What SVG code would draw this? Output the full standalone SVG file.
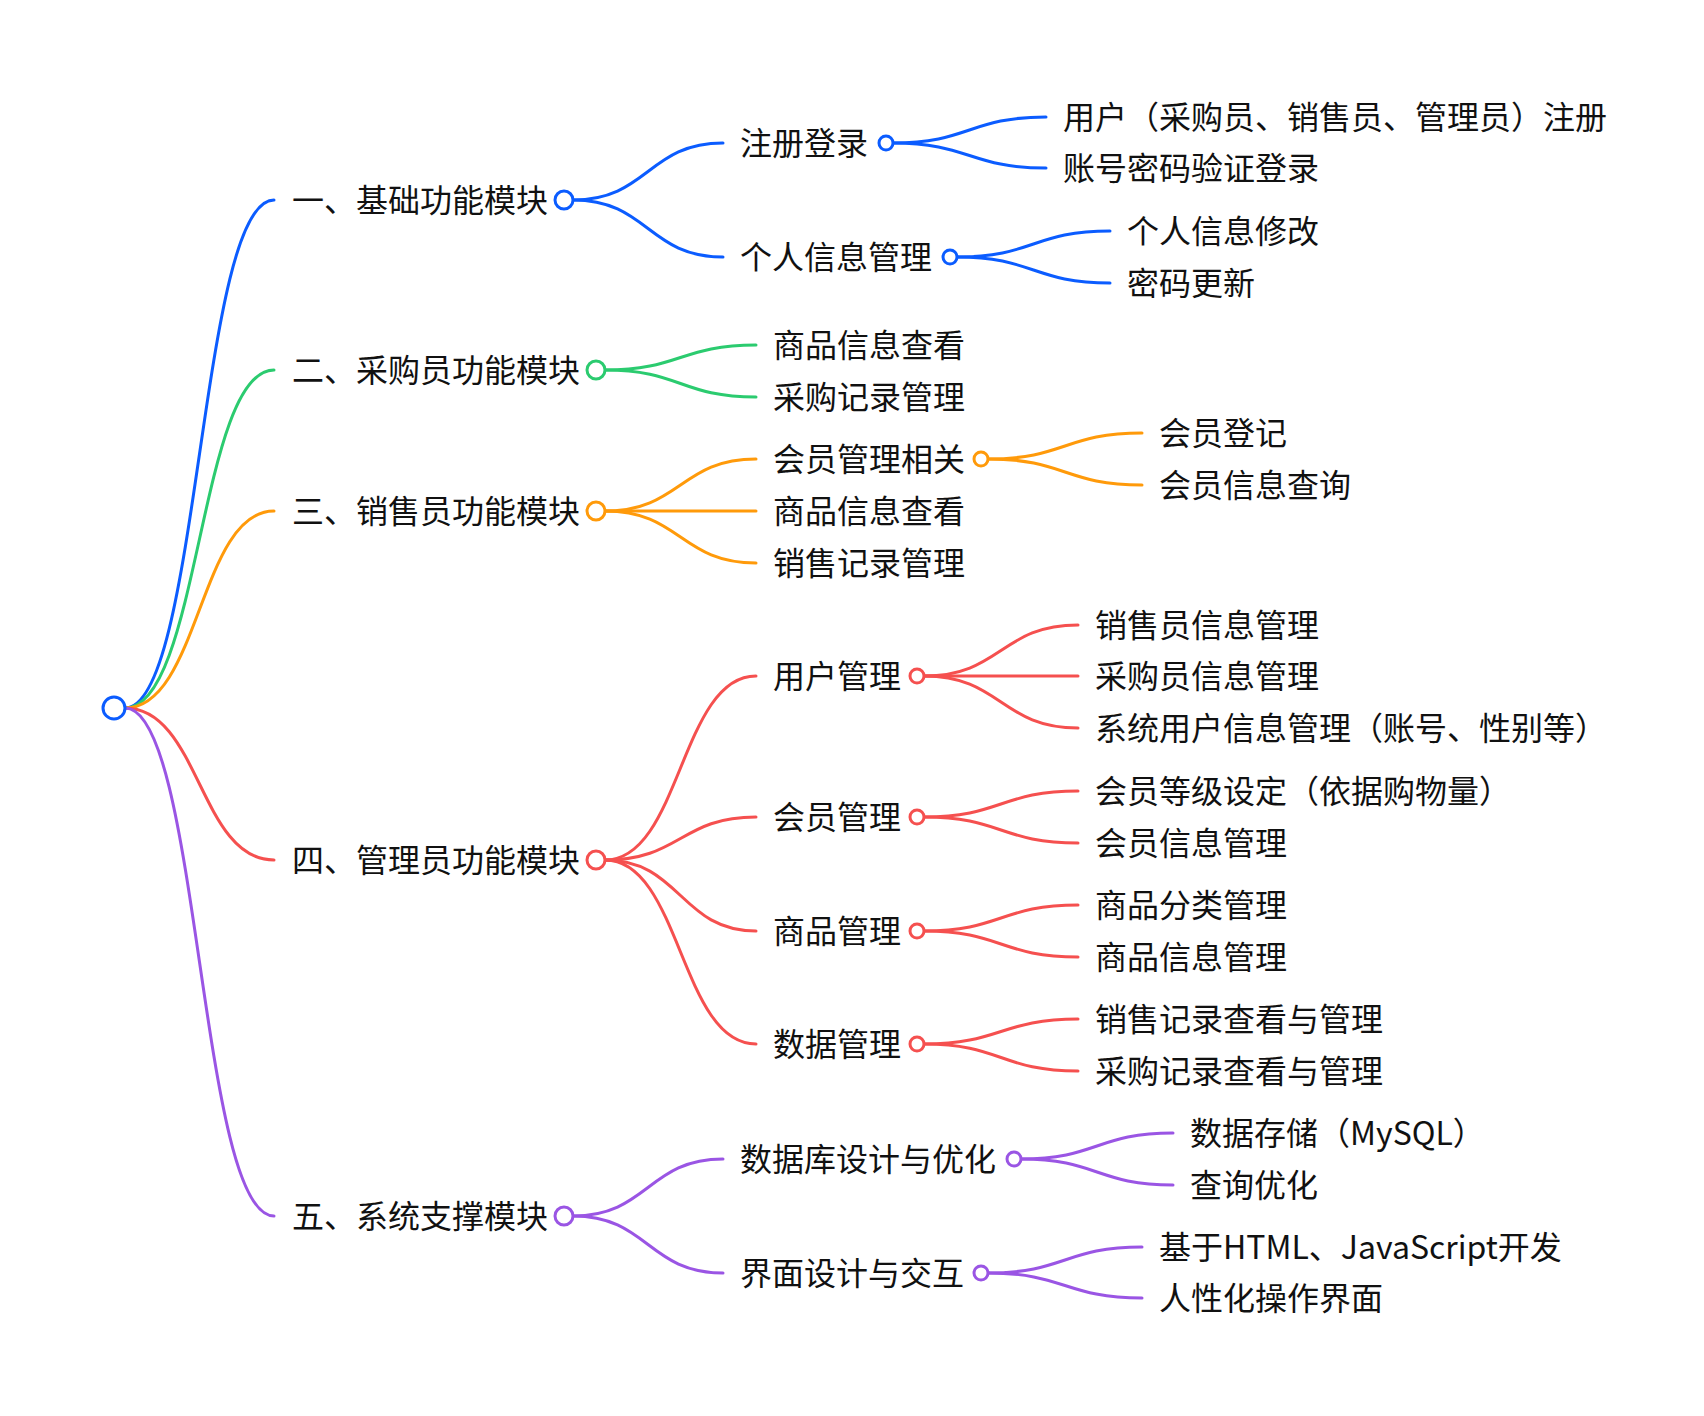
<svg xmlns="http://www.w3.org/2000/svg" width="1704" height="1416" viewBox="0 0 1704 1416">
<style>
text{font-family:"Noto Sans CJK SC","Noto Sans",sans-serif;font-size:32px;fill:#111}
path{fill:none;stroke-width:3;stroke-linecap:round}
circle{fill:#fff;stroke-width:3}
.b{stroke:#0b5cff}.g{stroke:#2bcb6f}.o{stroke:#ff9a0a}.r{stroke:#f5504f}.p{stroke:#9a55e4}
</style>
<rect width="1704" height="1416" fill="#fff"/>
<g id="connectors">
<path class="b" d="M125 708 C199.5 708 199.5 200 274 200"/>
<path class="g" d="M125 708 C199.5 708 199.5 370 274 370"/>
<path class="o" d="M125 708 C199.5 708 199.5 511 274 511"/>
<path class="r" d="M125 708 C199.5 708 199.5 860 274 860"/>
<path class="p" d="M125 708 C199.5 708 199.5 1216 274 1216"/>
<path class="b" d="M573 200 C648 200 648 143 723 143"/>
<path class="b" d="M573 200 C648 200 648 257 723 257"/>
<path class="b" d="M893 143 C969.5 143 969.5 117 1046 117"/>
<path class="b" d="M893 143 C969.5 143 969.5 168 1046 168"/>
<path class="b" d="M957 257 C1033.5 257 1033.5 231 1110 231"/>
<path class="b" d="M957 257 C1033.5 257 1033.5 283 1110 283"/>
<path class="g" d="M605 370 C680.5 370 680.5 345 756 345"/>
<path class="g" d="M605 370 C680.5 370 680.5 397 756 397"/>
<path class="o" d="M605 511 C680.5 511 680.5 459 756 459"/>
<path class="o" d="M605 511 L756 511"/>
<path class="o" d="M605 511 C680.5 511 680.5 563 756 563"/>
<path class="o" d="M988 459 C1065 459 1065 433 1142 433"/>
<path class="o" d="M988 459 C1065 459 1065 485 1142 485"/>
<path class="r" d="M605 860 C680.5 860 680.5 676 756 676"/>
<path class="r" d="M605 860 C680.5 860 680.5 817 756 817"/>
<path class="r" d="M605 860 C680.5 860 680.5 931 756 931"/>
<path class="r" d="M605 860 C680.5 860 680.5 1044 756 1044"/>
<path class="r" d="M924 676 C1001 676 1001 625 1078 625"/>
<path class="r" d="M924 676 L1078 676"/>
<path class="r" d="M924 676 C1001 676 1001 728 1078 728"/>
<path class="r" d="M924 817 C1001 817 1001 791 1078 791"/>
<path class="r" d="M924 817 C1001 817 1001 843 1078 843"/>
<path class="r" d="M924 931 C1001 931 1001 905 1078 905"/>
<path class="r" d="M924 931 C1001 931 1001 957 1078 957"/>
<path class="r" d="M924 1044 C1001 1044 1001 1019 1078 1019"/>
<path class="r" d="M924 1044 C1001 1044 1001 1071 1078 1071"/>
<path class="p" d="M573 1216 C648 1216 648 1159 723 1159"/>
<path class="p" d="M573 1216 C648 1216 648 1273 723 1273"/>
<path class="p" d="M1021 1159 C1097 1159 1097 1133 1173 1133"/>
<path class="p" d="M1021 1159 C1097 1159 1097 1185 1173 1185"/>
<path class="p" d="M988 1273 C1065 1273 1065 1247 1142 1247"/>
<path class="p" d="M988 1273 C1065 1273 1065 1298 1142 1298"/>
</g>
<g id="root"><circle class="b" cx="114" cy="708" r="11"/></g>
<g id="n1"><text x="292" y="212">一、基础功能模块</text><circle class="b" cx="564" cy="200" r="9"/></g>
<g id="n1-1"><text x="740" y="155">注册登录</text><circle class="b" cx="886" cy="143" r="7"/></g>
<g id="n1-1-1"><text x="1063" y="129">用户（采购员、销售员、管理员）注册</text></g>
<g id="n1-1-2"><text x="1063" y="180">账号密码验证登录</text></g>
<g id="n1-2"><text x="740" y="269">个人信息管理</text><circle class="b" cx="950" cy="257" r="7"/></g>
<g id="n1-2-1"><text x="1127" y="243">个人信息修改</text></g>
<g id="n1-2-2"><text x="1127" y="295">密码更新</text></g>
<g id="n2"><text x="292" y="382">二、采购员功能模块</text><circle class="g" cx="596" cy="370" r="9"/></g>
<g id="n2-1"><text x="773" y="357">商品信息查看</text></g>
<g id="n2-2"><text x="773" y="409">采购记录管理</text></g>
<g id="n3"><text x="292" y="523">三、销售员功能模块</text><circle class="o" cx="596" cy="511" r="9"/></g>
<g id="n3-1"><text x="773" y="471">会员管理相关</text><circle class="o" cx="981" cy="459" r="7"/></g>
<g id="n3-1-1"><text x="1159" y="445">会员登记</text></g>
<g id="n3-1-2"><text x="1159" y="497">会员信息查询</text></g>
<g id="n3-2"><text x="773" y="523">商品信息查看</text></g>
<g id="n3-3"><text x="773" y="575">销售记录管理</text></g>
<g id="n4"><text x="292" y="872">四、管理员功能模块</text><circle class="r" cx="596" cy="860" r="9"/></g>
<g id="n4-1"><text x="773" y="688">用户管理</text><circle class="r" cx="917" cy="676" r="7"/></g>
<g id="n4-1-1"><text x="1095" y="637">销售员信息管理</text></g>
<g id="n4-1-2"><text x="1095" y="688">采购员信息管理</text></g>
<g id="n4-1-3"><text x="1095" y="740">系统用户信息管理（账号、性别等）</text></g>
<g id="n4-2"><text x="773" y="829">会员管理</text><circle class="r" cx="917" cy="817" r="7"/></g>
<g id="n4-2-1"><text x="1095" y="803">会员等级设定（依据购物量）</text></g>
<g id="n4-2-2"><text x="1095" y="855">会员信息管理</text></g>
<g id="n4-3"><text x="773" y="943">商品管理</text><circle class="r" cx="917" cy="931" r="7"/></g>
<g id="n4-3-1"><text x="1095" y="917">商品分类管理</text></g>
<g id="n4-3-2"><text x="1095" y="969">商品信息管理</text></g>
<g id="n4-4"><text x="773" y="1056">数据管理</text><circle class="r" cx="917" cy="1044" r="7"/></g>
<g id="n4-4-1"><text x="1095" y="1031">销售记录查看与管理</text></g>
<g id="n4-4-2"><text x="1095" y="1083">采购记录查看与管理</text></g>
<g id="n5"><text x="292" y="1228">五、系统支撑模块</text><circle class="p" cx="564" cy="1216" r="9"/></g>
<g id="n5-1"><text x="740" y="1171">数据库设计与优化</text><circle class="p" cx="1014" cy="1159" r="7"/></g>
<g id="n5-1-1"><text x="1190" y="1145">数据存储（MySQL）</text></g>
<g id="n5-1-2"><text x="1190" y="1197">查询优化</text></g>
<g id="n5-2"><text x="740" y="1285">界面设计与交互</text><circle class="p" cx="981" cy="1273" r="7"/></g>
<g id="n5-2-1"><text x="1159" y="1259">基于HTML、JavaScript开发</text></g>
<g id="n5-2-2"><text x="1159" y="1310">人性化操作界面</text></g>
</svg>
